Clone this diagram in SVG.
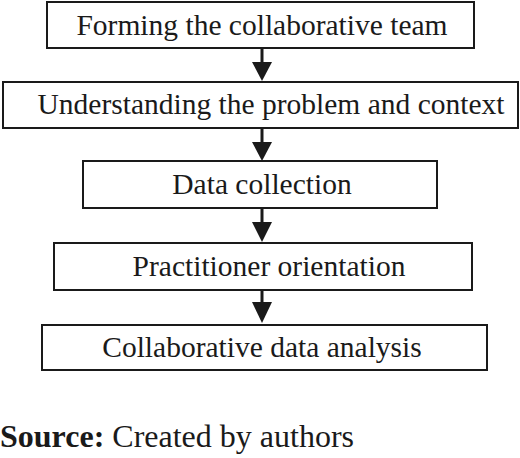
<svg xmlns="http://www.w3.org/2000/svg" width="520" height="458" viewBox="0 0 520 458">
<style>
.box{fill:#fff;stroke:#1a1a1a;stroke-width:2}
.t{font-family:"Liberation Serif","Times New Roman",serif;font-size:29.5px;fill:#1a1a1a;text-anchor:middle}
.c{stroke:#1a1a1a;stroke-width:3;fill:none}
.h{fill:#1a1a1a}
.src{font-family:"Liberation Serif","Times New Roman",serif;font-size:32px;fill:#1a1a1a}
</style>
<rect width="520" height="458" fill="#fff"/>
<g id="connectors">
<line class="c" x1="262" y1="48" x2="262" y2="65"/><polygon class="h" points="252,62 272,62 262,81"/>
<line class="c" x1="262" y1="128" x2="262" y2="145"/><polygon class="h" points="252,142 272,142 262,161"/>
<line class="c" x1="262" y1="208" x2="262" y2="225"/><polygon class="h" points="252,222 272,222 262,242"/>
<line class="c" x1="262" y1="290" x2="262" y2="305"/><polygon class="h" points="252,302 272,302 262,323"/>
</g>
<g id="n1"><rect class="box" x="47" y="2" width="427" height="46"/><text class="t" x="262" y="35">Forming the collaborative team</text></g>
<g id="n2"><rect class="box" x="3" y="82" width="515" height="46"/><text class="t" x="271" y="114">Understanding the problem and context</text></g>
<g id="n3"><rect class="box" x="83" y="161" width="354" height="47"/><text class="t" x="262" y="194">Data collection</text></g>
<g id="n4"><rect class="box" x="54" y="243" width="418" height="47"/><text class="t" x="269" y="276">Practitioner orientation</text></g>
<g id="n5"><rect class="box" x="42" y="325" width="445" height="45"/><text class="t" x="262" y="357">Collaborative data analysis</text></g>
<text class="src" x="0" y="447"><tspan font-weight="bold">Source:</tspan> Created by authors</text>
</svg>
